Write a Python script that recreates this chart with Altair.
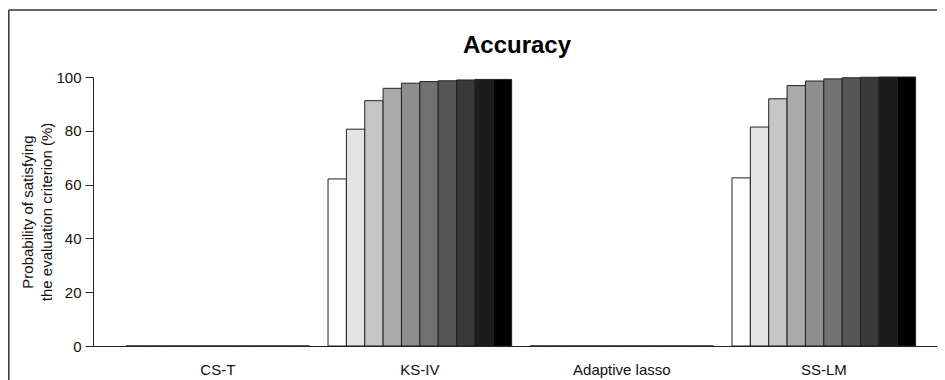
import altair as alt
import pandas as pd

title_text = "Accuracy"
groups = ["CS-T", "KS-IV", "Adaptive lasso", "SS-LM"]
levels = [1, 2, 3, 4, 5, 6, 7, 8, 9, 10]
cs_t = [0, 0, 0, 0, 0, 0, 0, 0, 0, 0]
ks_iv = [62.1, 80.6, 91.2, 95.8, 97.7, 98.3, 98.6, 98.9, 99.1, 99.1]
adaptive_lasso = [0, 0, 0, 0, 0, 0, 0, 0, 0, 0]
ss_lm = [62.5, 81.4, 91.9, 96.8, 98.5, 99.3, 99.7, 99.9, 100.0, 100.0]
grays = ["#FFFFFF", "#E3E3E3", "#C6C6C6", "#AAAAAA", "#8E8E8E",
         "#717171", "#555555", "#393939", "#1C1C1C", "#000000"]
y_ticks = [0, 20, 40, 60, 80, 100]

series = {"CS-T": cs_t, "KS-IV": ks_iv, "Adaptive lasso": adaptive_lasso, "SS-LM": ss_lm}
rows = []
for g in groups:
    for lv, v in zip(levels, series[g]):
        rows.append({"group": g, "level": lv, "value": v})
df = pd.DataFrame(rows)

W, H = 844, 269
FONT = "Liberation Sans"

bars = alt.Chart(df).mark_bar(stroke="#222222", strokeWidth=1).encode(
    x=alt.X("group:N", sort=groups,
            scale=alt.Scale(paddingInner=1/11, paddingOuter=0.1347, align=0.607),
            axis=alt.Axis(title=None, labelAngle=0, ticks=False, domainColor="#222222",
                          domainWidth=1, labelPadding=16, labelFontSize=15,
                          labelFont=FONT, labelColor="#111111")),
    xOffset=alt.XOffset("level:O", scale=alt.Scale(paddingInner=0, paddingOuter=0)),
    y=alt.Y("value:Q", scale=alt.Scale(domain=[0, 100], nice=False),
            axis=alt.Axis(values=y_ticks, tickSize=8, tickColor="#222222",
                          domainColor="#222222", labelPadding=4, labelFontSize=15,
                          labelFont=FONT, labelColor="#111111", grid=False,
                          title=["Probability of satisfying", "the evaluation criterion (%)"],
                          titleFont=FONT, titleFontSize=15, titleFontWeight="normal",
                          titleColor="#111111", titleLineHeight=19,
                          titleAngle=270, titleAlign="center", titleBaseline="bottom",
                          titleX=-58, titleY=H / 2)),
    color=alt.Color("level:O", scale=alt.Scale(domain=levels, range=grays), legend=None),
)

title_df = pd.DataFrame({"t": [title_text]})
title_mark = alt.Chart(title_df).mark_text(
    font=FONT, fontSize=24, fontWeight="bold", color="#000000",
    align="center", baseline="middle").encode(
    text="t:N", x=alt.value(W / 2 + 2), y=alt.value(-31))

frame_left = alt.Chart(title_df).mark_rule(color="#333333", strokeWidth=1.5).encode(
    x=alt.value(-84.2), y=alt.value(-67), y2=alt.value(H + 40))
frame_top = alt.Chart(title_df).mark_rule(color="#333333", strokeWidth=1.5).encode(
    x=alt.value(-84.2), x2=alt.value(W), y=alt.value(-67))

chart = alt.layer(frame_left, frame_top, bars, title_mark).properties(
    width=W, height=H,
    autosize=alt.AutoSizeParams(type="none"),
    padding={"left": 85, "top": 69, "right": 0, "bottom": 34},
).configure_view(stroke=None)

chart.save("out.html", embed_options={"renderer": "svg", "actions": False})
